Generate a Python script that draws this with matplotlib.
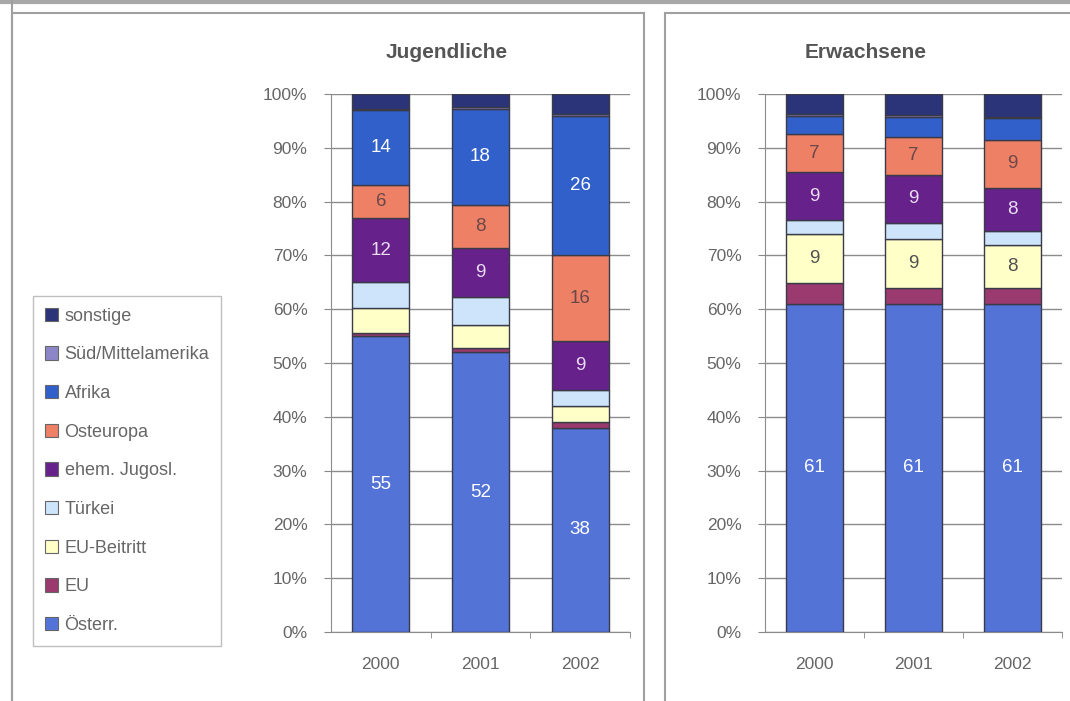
import numpy as np
import matplotlib
matplotlib.use("Agg")
import matplotlib.pyplot as plt
from matplotlib.patches import Rectangle, Patch
from matplotlib.lines import Line2D

plt.rcParams['font.family'] = ['Liberation Sans', 'DejaVu Sans']

years = ['2000', '2001', '2002']
groups = ['Österr.', 'EU', 'EU-Beitritt', 'Türkei', 'ehem. Jugosl.',
          'Osteuropa', 'Afrika', 'Süd/Mittelamerika', 'sonstige']
colors = ['#5373D6', '#9A3A6E', '#FFFFC8', '#CDE4FA', '#66228A',
          '#EE8066', '#3160CA', '#8C86C8', '#2B3478']
label_colors = ['white', 'white', '#505050', '#505050', '#EADCF4',
                '#6A4848', 'white', 'white', 'white']

# shares in percent, one list per group (2000, 2001, 2002)
jugend = {
    'Österr.':           [55, 52, 38],
    'EU':                [0.5, 0.8, 1],
    'EU-Beitritt':       [4.7, 4.3, 3],
    'Türkei':            [4.8, 5.2, 3],
    'ehem. Jugosl.':     [12, 9, 9],
    'Osteuropa':         [6, 8, 16],
    'Afrika':            [14, 18, 26],
    'Süd/Mittelamerika': [0.3, 0.3, 0.3],
    'sonstige':          [2.7, 2.4, 3.7],
}
erwachsene = {
    'Österr.':           [61, 61, 61],
    'EU':                [3.9, 3, 3],
    'EU-Beitritt':       [9, 9, 8],
    'Türkei':            [2.6, 3, 2.5],
    'ehem. Jugosl.':     [9, 9, 8],
    'Osteuropa':         [7, 7, 9],
    'Afrika':            [3.5, 3.8, 4],
    'Süd/Mittelamerika': [0.3, 0.3, 0.3],
    'sonstige':          [3.7, 3.9, 4.2],
}

W, H = 1070, 701
fig = plt.figure(figsize=(W / 100, H / 100), dpi=100)
fig.patch.set_facecolor('white')


def px_axes(x0, y0, x1, y1):
    return fig.add_axes([x0 / W, 1 - y1 / H, (x1 - x0) / W, (y1 - y0) / H])


def stacked(ax, data, title, title_x):
    x = np.arange(len(years))
    bottom = np.zeros(len(years))
    for g, c, lc in zip(groups, colors, label_colors):
        vals = np.array(data[g], dtype=float)
        ax.bar(x, vals, 0.57, bottom=bottom, color=c, edgecolor='#3A3A48',
               linewidth=1.0, zorder=3)
        for xi, v, b in zip(x, vals, bottom):
            if v >= 6:
                ax.text(xi, b + v / 2, f'{v:.0f}', ha='center', va='center',
                        color=lc, fontsize=13.5, zorder=4)
        bottom += vals
    ax.set_xlim(-0.5, 2.5)
    ax.set_ylim(0, 100)
    ax.set_yticks(np.arange(0, 101, 10))
    ax.set_yticklabels([f'{v}%' for v in range(0, 101, 10)])
    ax.set_xticks(x)
    ax.set_xticklabels(years)
    ax.set_xticks([0.5, 1.5, 2.5], minor=True)
    ax.tick_params(axis='x', which='major', length=0, pad=18,
                   labelsize=12.5, labelcolor='#666666')
    ax.tick_params(axis='x', which='minor', length=4, color='#888888')
    ax.tick_params(axis='y', length=5, color='#888888', pad=12,
                   labelsize=12.5, labelcolor='#666666')
    ax.yaxis.grid(True, color='#8C8C8C', linewidth=1, zorder=0)
    ax.set_axisbelow(True)
    for s in ['top', 'right']:
        ax.spines[s].set_visible(False)
    for s in ['left', 'bottom']:
        ax.spines[s].set_color('#8C8C8C')
    fig.text(title_x / W, 1 - 52 / H, title, ha='center', va='center',
             fontsize=15, fontweight='bold', color='#555555')


# panel frames
fig.add_artist(Line2D([0, 1], [1 - 1.5 / H, 1 - 1.5 / H], color='#A8A8A8',
                      linewidth=3, transform=fig.transFigure))
fig.add_artist(Line2D([12 / W, 12 / W], [0, 1], color='#A0A0A0', linewidth=1.5,
                      transform=fig.transFigure))
fig.add_artist(Rectangle((12 / W, -0.01), (644 - 12) / W, 1.01 - 13 / H,
                         fill=False, edgecolor='#A0A0A0', linewidth=1.5,
                         transform=fig.transFigure))
fig.add_artist(Rectangle((665 / W, -0.01), (1080 - 665) / W, 1.01 - 13 / H,
                         fill=False, edgecolor='#A0A0A0', linewidth=1.5,
                         transform=fig.transFigure))

ax1 = px_axes(331, 94, 630, 632)
stacked(ax1, jugend, 'Jugendliche', 447)
ax2 = px_axes(765, 94, 1062, 632)
stacked(ax2, erwachsene, 'Erwachsene', 866)

handles = [Patch(facecolor=c, edgecolor='#666666', linewidth=0.8)
           for c in colors][::-1]
leg = fig.legend(handles, groups[::-1], loc='upper left',
                 bbox_to_anchor=(33 / W, 1 - 296 / H), frameon=True,
                 fontsize=13, labelspacing=1.2, handlelength=0.75,
                 handleheight=0.75, handletextpad=0.35, borderpad=0.65,
                 borderaxespad=0, fancybox=False)
leg.get_frame().set_edgecolor('#B0B0B0')
leg.get_frame().set_linewidth(1)
for t in leg.get_texts():
    t.set_color('#666666')

fig.savefig('out.png', dpi=100)
